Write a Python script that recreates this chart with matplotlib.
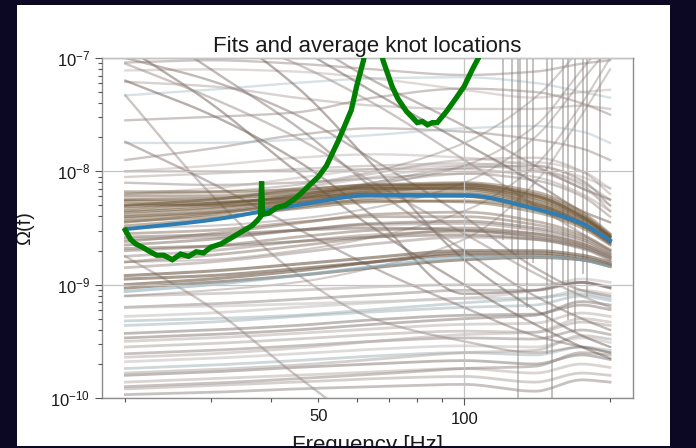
import numpy as np
import matplotlib
matplotlib.use("Agg")
import matplotlib.pyplot as plt
from matplotlib.patches import Rectangle
from matplotlib.ticker import FixedLocator, FixedFormatter, NullFormatter, LogLocator

plt.rcParams['font.family'] = ['Liberation Sans', 'DejaVu Sans']
plt.rcParams['mathtext.fontset'] = 'custom'
plt.rcParams['mathtext.rm'] = 'Liberation Sans'
plt.rcParams['mathtext.it'] = 'Liberation Sans:italic'

# ---------------- data (log10 Omega at knot frequencies) ----------------
knot_freqs = [20, 30, 45, 65, 100, 140, 175, 200]

average_fit = [-8.51, -8.43, -8.30, -8.21, -8.21, -8.33, -8.46, -8.61]

band_upper = [
    [-8.30, -8.25, -8.17, -8.12, -8.13, -8.25, -8.42, -8.58],
    [-8.35, -8.30, -8.22, -8.15, -8.15, -8.27, -8.43, -8.60],
    [-8.40, -8.36, -8.27, -8.19, -8.18, -8.29, -8.45, -8.62],
    [-8.25, -8.24, -8.20, -8.14, -8.12, -8.22, -8.40, -8.57],
    [-8.45, -8.38, -8.28, -8.20, -8.22, -8.34, -8.48, -8.63],
    [-8.22, -8.22, -8.18, -8.15, -8.16, -8.28, -8.45, -8.62],
    [-8.33, -8.28, -8.24, -8.20, -8.20, -8.30, -8.46, -8.62],
    [-8.48, -8.42, -8.32, -8.24, -8.22, -8.31, -8.46, -8.60],
    [-8.18, -8.18, -8.16, -8.12, -8.10, -8.18, -8.36, -8.55],
    [-8.38, -8.33, -8.25, -8.18, -8.14, -8.22, -8.40, -8.58],
    [-8.28, -8.30, -8.27, -8.22, -8.22, -8.33, -8.48, -8.64],
    [-8.42, -8.37, -8.30, -8.26, -8.27, -8.36, -8.50, -8.65],
    [-8.26, -8.27, -8.23, -8.17, -8.15, -8.24, -8.41, -8.58],
    [-8.36, -8.32, -8.24, -8.16, -8.12, -8.20, -8.38, -8.56],
    [-8.44, -8.40, -8.33, -8.27, -8.26, -8.33, -8.47, -8.62],
    [-8.31, -8.29, -8.21, -8.13, -8.11, -8.21, -8.39, -8.57],
]

band_middle = [
    [-8.55, -8.52, -8.45, -8.40, -8.40, -8.47, -8.58, -8.70],
    [-8.60, -8.58, -8.52, -8.47, -8.46, -8.52, -8.62, -8.73],
    [-8.65, -8.60, -8.52, -8.46, -8.44, -8.50, -8.60, -8.72],
    [-8.70, -8.66, -8.58, -8.52, -8.50, -8.55, -8.64, -8.75],
    [-8.75, -8.70, -8.62, -8.56, -8.53, -8.57, -8.66, -8.76],
    [-8.58, -8.56, -8.52, -8.50, -8.52, -8.58, -8.66, -8.76],
    [-8.80, -8.74, -8.66, -8.58, -8.52, -8.55, -8.64, -8.74],
    [-8.85, -8.80, -8.72, -8.64, -8.58, -8.60, -8.67, -8.77],
    [-8.68, -8.66, -8.62, -8.58, -8.56, -8.60, -8.68, -8.78],
    [-8.62, -8.55, -8.46, -8.38, -8.36, -8.44, -8.56, -8.69],
]

band_lower = [
    [-9.00, -8.95, -8.88, -8.80, -8.72, -8.72, -8.76, -8.82],
    [-8.95, -8.92, -8.86, -8.80, -8.74, -8.74, -8.78, -8.84],
    [-9.03, -8.98, -8.92, -8.85, -8.78, -8.76, -8.78, -8.83],
    [-8.92, -8.88, -8.82, -8.76, -8.70, -8.70, -8.74, -8.80],
    [-9.06, -9.00, -8.92, -8.84, -8.76, -8.75, -8.78, -8.84],
]

low_fits = [
    [-9.10, -9.08, -9.05, -9.02, -9.00, -9.00, -8.98, -9.03],
    [-9.20, -9.17, -9.13, -9.09, -9.05, -9.05, -8.98, -9.02],
    [-9.28, -9.25, -9.20, -9.16, -9.12, -9.12, -9.05, -9.08],
    [-9.36, -9.33, -9.28, -9.24, -9.20, -9.18, -9.10, -9.14],
    [-9.43, -9.40, -9.36, -9.31, -9.27, -9.26, -9.18, -9.22],
    [-9.50, -9.47, -9.43, -9.39, -9.35, -9.34, -9.25, -9.28],
    [-9.55, -9.52, -9.48, -9.44, -9.41, -9.42, -9.33, -9.36],
    [-9.61, -9.58, -9.54, -9.50, -9.47, -9.48, -9.40, -9.44],
    [-9.68, -9.65, -9.61, -9.57, -9.54, -9.55, -9.47, -9.51],
    [-9.74, -9.71, -9.67, -9.63, -9.60, -9.62, -9.55, -9.58],
    [-9.80, -9.77, -9.73, -9.70, -9.67, -9.70, -9.62, -9.66],
    [-9.86, -9.83, -9.80, -9.77, -9.74, -9.78, -9.70, -9.73],
    [-9.92, -9.89, -9.86, -9.83, -9.81, -9.86, -9.78, -9.80],
    [-9.97, -9.95, -9.92, -9.90, -9.88, -9.94, -9.84, -9.86],
    [-9.20, -9.19, -9.17, -9.15, -9.12, -9.05, -8.95, -8.98],
    [-9.32, -9.30, -9.27, -9.22, -9.16, -9.12, -9.08, -9.12],
    [-9.47, -9.44, -9.40, -9.35, -9.30, -9.27, -9.15, -9.18],
    [-9.64, -9.61, -9.56, -9.50, -9.44, -9.42, -9.30, -9.33],
    [-9.78, -9.75, -9.71, -9.66, -9.60, -9.58, -9.45, -9.48],
    [-9.90, -9.87, -9.83, -9.79, -9.74, -9.72, -9.60, -9.62],
]

falling_fits = [
    [-6.30, -6.70, -7.25, -7.95, -8.78, -9.22, -9.45, -9.55],
    [-7.33, -8.20, -8.90, -9.30, -9.50, -9.60, -9.55, -9.60],
    [-7.74, -8.10, -8.50, -8.85, -9.20, -9.45, -9.55, -9.60],
    [-6.90, -7.40, -8.00, -8.50, -9.00, -9.35, -9.55, -9.65],
    [-8.75, -9.20, -9.80, -10.30, -10.80, -11.0, -11.0, -11.0],
    [-6.00, -6.40, -6.80, -7.20, -7.60, -7.95, -8.15, -8.25],
    [-6.20, -6.50, -6.90, -7.30, -7.75, -8.10, -8.35, -8.45],
    [-6.50, -6.75, -7.05, -7.40, -7.90, -8.30, -8.55, -8.70],
    [-7.00, -7.20, -7.50, -7.90, -8.40, -8.85, -9.05, -9.10],
    [-7.20, -7.50, -7.90, -8.40, -9.08, -9.05, -8.98, -9.03],
    [-7.05, -7.35, -7.70, -8.10, -8.55, -8.90, -9.10, -9.20],
    [-6.60, -7.10, -7.60, -8.15, -8.70, -9.10, -9.30, -9.40],
]

high_fits = [
    [-7.33, -7.28, -7.22, -7.18, -7.17, -7.22, -7.30, -7.35],
    [-7.04, -7.02, -7.05, -7.10, -7.15, -7.12, -7.05, -7.02],
    [-7.11, -7.10, -7.12, -7.18, -7.28, -7.35, -7.30, -7.28],
    [-7.21, -7.25, -7.35, -7.42, -7.45, -7.45, -7.42, -7.45],
    [-7.90, -7.80, -7.68, -7.62, -7.65, -7.72, -7.80, -7.90],
    [-8.00, -7.95, -7.88, -7.85, -7.88, -7.95, -8.05, -8.15],
    [-8.05, -8.02, -7.98, -7.95, -7.93, -7.98, -8.10, -8.25],
    [-7.55, -7.52, -7.48, -7.35, -7.27, -7.30, -7.40, -7.50],
    [-7.75, -7.75, -7.72, -7.68, -7.62, -7.60, -7.65, -7.75],
    [-8.00, -8.00, -8.00, -7.98, -7.98, -8.05, -8.20, -8.35],
    [-8.10, -8.12, -8.10, -8.06, -8.02, -8.08, -8.22, -8.40],
    [-8.20, -8.15, -8.06, -7.98, -7.95, -8.00, -8.15, -8.30],
    [-8.30, -8.25, -8.15, -8.02, -7.90, -7.88, -8.00, -8.20],
    [-8.40, -8.35, -8.25, -8.10, -7.97, -7.95, -8.08, -8.30],
    [-8.20, -8.20, -8.15, -8.05, -7.95, -7.92, -8.00, -8.15],
    [-8.25, -8.25, -8.20, -8.10, -8.02, -8.00, -8.12, -8.35],
]

rising_fits = [
    [-8.30, -8.28, -8.22, -8.12, -7.95, -7.60, -7.10, -6.80],
    [-8.50, -8.48, -8.42, -8.32, -8.10, -7.70, -7.20, -6.90],
    [-8.80, -8.78, -8.70, -8.58, -8.35, -7.95, -7.40, -7.00],
    [-9.10, -9.05, -8.98, -8.85, -8.60, -8.10, -7.50, -7.10],
    [-8.20, -8.18, -8.12, -8.00, -7.75, -7.35, -6.90, -6.60],
]

# fits that diverge near the high-frequency end: frequency [Hz] and log10 floor
divergent_freqs = [120.3, 125.6, 129.2, 130.4, 134.8, 138.7, 148.2, 152.0,
                   160.0, 164.0, 169.4, 176.0, 179.3, 190.6]
divergent_floor = [-8.6, -8.7, -10.0, -8.5, -9.2, -8.8, -9.6, -10.0,
                   -9.0, -9.3, -9.4, -8.9, -9.1, -8.55]

# sensitivity curve (green)
sens_freqs = [20.0, 20.5, 21.0, 21.7, 22.5, 23.2, 24.0, 25.0, 26.0, 27.0, 28.0,
              29.0, 30.0, 31.5, 33.0, 34.2, 35.5, 36.5, 37.5, 38.0,
              38.2, 38.4, 39.5, 41.0, 42.7, 44.5, 46.2, 48.0, 50.0, 52.0, 55.0,
              58.5, 60.0, 62.0, 63.5,
              64.5, 66.0, 68.0, 71.0, 73.0, 76.0, 78.0, 80.0, 82.0, 84.0, 86.0,
              88.0, 90.0, 92.0, 96.0, 100.0, 104.0, 107.0, 110.0]
sens_log = [-8.52, -8.60, -8.64, -8.67, -8.71, -8.74, -8.74, -8.78, -8.73, -8.75,
            -8.71, -8.72, -8.67, -8.64, -8.59, -8.55, -8.51, -8.48, -8.43, -8.40,
            -8.09, -8.38, -8.37, -8.32, -8.30, -8.25, -8.19, -8.12, -8.05, -7.95,
            -7.73, -7.46, -7.25, -7.02, -6.70,
            -6.40, -6.70, -7.02, -7.25, -7.36, -7.47, -7.52, -7.57, -7.56, -7.59,
            -7.57, -7.57, -7.52, -7.47, -7.36, -7.25, -7.10, -7.00, -6.85]

title = "Fits and average knot locations"
xlabel = "Frequency [Hz]"
ylabel = "Ω(f)"


def pchip(x, y, xn):
    x = np.asarray(x, float); y = np.asarray(y, float)
    h = np.diff(x); d = np.diff(y) / h
    m = np.zeros_like(y)
    for k in range(1, len(y) - 1):
        if d[k - 1] * d[k] > 0:
            w1 = 2 * h[k] + h[k - 1]; w2 = h[k] + 2 * h[k - 1]
            m[k] = (w1 + w2) / (w1 / d[k - 1] + w2 / d[k])
    m[0] = d[0]; m[-1] = d[-1]
    idx = np.clip(np.searchsorted(x, xn) - 1, 0, len(x) - 2)
    t = (xn - x[idx]) / h[idx]
    h00 = 2 * t**3 - 3 * t**2 + 1; h10 = t**3 - 2 * t**2 + t
    h01 = -2 * t**3 + 3 * t**2; h11 = t**3 - t**2
    return h00 * y[idx] + h10 * h[idx] * m[idx] + h01 * y[idx + 1] + h11 * h[idx] * m[idx + 1]


f_grid = np.geomspace(knot_freqs[0], knot_freqs[-1], 400)
lk = np.log10(knot_freqs)
lg = np.log10(f_grid)

def curve(vals):
    return 10 ** pchip(lk, vals, lg)

# ---------------- figure ----------------
fig = plt.figure(figsize=(6.96, 4.48), dpi=100, facecolor='white')
ax = fig.add_axes([102 / 696, 50 / 448, 531 / 696, 340 / 448])

low_cols = ['#b3aba7', '#9a918d', '#c4c0be', '#a7b6bb', '#8b817c', '#bdb2ad']
for i, v in enumerate(low_fits):
    ax.plot(f_grid, curve(v), color=low_cols[i % len(low_cols)], lw=2.0, alpha=0.55)

for i, v in enumerate(high_fits):
    c = '#a9c0c8' if i in (0, 8) else ['#a89c98', '#8f807a', '#b8aca8'][i % 3]
    ax.plot(f_grid, curve(v), color=c, lw=1.7, alpha=0.45)

for i, v in enumerate(falling_fits):
    c = ['#6f5f59', '#9a8d88', '#857570'][i % 3]
    ax.plot(f_grid, curve(v), color=c, lw=1.7, alpha=0.5)

for v in rising_fits:
    ax.plot(f_grid, curve(v), color='#8d7f79', lw=1.5, alpha=0.4)

for f, lo in zip(divergent_freqs, divergent_floor):
    ax.plot([f, f], [10 ** lo, 1e-5], color='#8a8482', lw=1.4, alpha=0.5)

for i, v in enumerate(band_lower):
    c = '#8fb0bd' if i == 4 else '#6e5a48'
    ax.plot(f_grid, curve(v), color=c, lw=2.2, alpha=0.6)

for i, v in enumerate(band_middle):
    c = ['#8a7565', '#9c8d88', '#7a6a5e'][i % 3]
    ax.plot(f_grid, curve(v), color=c, lw=2.0, alpha=0.5)

for v in band_upper:
    ax.plot(f_grid, curve(v), color='#6f5636', lw=2.0, alpha=0.45)

ax.plot(f_grid, curve(average_fit), color='#2f7db5', lw=2.8, zorder=5)
ax.plot(sens_freqs, 10 ** np.array(sens_log), color='#007f00', lw=3.8, zorder=6,
        solid_joinstyle='miter')

ax.set_xscale('log')
ax.set_yscale('log')
ax.set_xlim(17.9, 223)
ax.set_ylim(1e-10, 1e-7)

ax.xaxis.set_major_locator(FixedLocator([100]))
ax.xaxis.set_major_formatter(FixedFormatter(['100']))
minor_x = [20, 30, 40, 50, 60, 70, 80, 90, 200]
ax.xaxis.set_minor_locator(FixedLocator(minor_x))
ax.xaxis.set_minor_formatter(FixedFormatter(['' if m != 50 else '50' for m in minor_x]))
ax.yaxis.set_major_locator(LogLocator(base=10))
ax.yaxis.set_minor_locator(LogLocator(base=10, subs=np.arange(2, 10)))
ax.yaxis.set_minor_formatter(NullFormatter())

ax.tick_params(which='both', colors='#555555', labelcolor='#1a1a1a', labelsize=12, width=0.8)
ax.tick_params(which='major', length=5)
ax.tick_params(which='minor', length=2.8)
ax.tick_params(axis='x', which='both', pad=5)

ax.grid(True, which='major', color='#c4c4c4', lw=0.9, zorder=7)
ax.set_axisbelow(False)
for s in ax.spines.values():
    s.set_color('#8c8c8c')
    s.set_linewidth(1.0)

ax.set_title(title, fontsize=16, color='#1a1a1a', pad=4)
ax.set_xlabel(xlabel, fontsize=16, color='#1a1a1a')
ax.xaxis.set_label_coords(0.5, -0.11)
ax.set_ylabel(ylabel, fontsize=14.5, color='#1a1a1a')
ax.yaxis.set_label_coords(-0.127, 0.5)

# dark slide frame around the cropped figure
dark = '#0c0722'
for (x0, y0, w, h) in [(0, 0, 17, 448), (0, 0, 696, 2), (0, 443, 696, 5), (670, 0, 26, 448)]:
    fig.add_artist(Rectangle((x0 / 696, y0 / 448), w / 696, h / 448, transform=fig.transFigure,
                             facecolor=dark, edgecolor='none', zorder=20))

fig.savefig('out.png', dpi=100, facecolor=fig.get_facecolor())
